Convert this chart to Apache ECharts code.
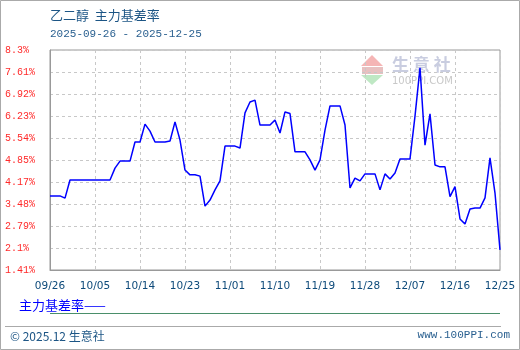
<!DOCTYPE html>
<html>
<head>
<meta charset="utf-8">
<script src="https://cdn.jsdelivr.net/npm/echarts@6/dist/echarts.min.js"></script>
<style>
html,body{margin:0;padding:0;background:#fff;}
#c{width:520px;height:350px;}
</style>
</head>
<body>
<div id="c"></div>
<script>
var titleText = '乙二醇  主力基差率';
var dateRangeText = '2025-09-26 - 2025-12-25';
var seriesName = '主力基差率';
var categories = [
'09/26','09/27','09/28','09/29','09/30',
'10/01','10/02','10/03','10/04','10/05','10/06','10/07','10/08','10/09','10/10',
'10/11','10/12','10/13','10/14','10/15','10/16','10/17','10/18','10/19','10/20',
'10/21','10/22','10/23','10/24','10/25','10/26','10/27','10/28','10/29','10/30','10/31',
'11/01','11/02','11/03','11/04','11/05','11/06','11/07','11/08','11/09','11/10',
'11/11','11/12','11/13','11/14','11/15','11/16','11/17','11/18','11/19','11/20',
'11/21','11/22','11/23','11/24','11/25','11/26','11/27','11/28','11/29','11/30',
'12/01','12/02','12/03','12/04','12/05','12/06','12/07','12/08','12/09','12/10',
'12/11','12/12','12/13','12/14','12/15','12/16','12/17','12/18','12/19','12/20',
'12/21','12/22','12/23','12/24','12/25'
];
var basisRate = [
3.73,3.73,3.73,3.66,4.23,
4.23,4.23,4.23,4.23,4.23,4.23,4.23,4.23,4.60,4.82,
4.82,4.82,5.42,5.42,5.98,5.76,5.42,5.42,5.42,5.45,
6.05,5.48,4.54,4.39,4.39,4.35,3.41,3.60,3.92,4.20,5.29,
5.29,5.29,5.23,6.33,6.67,6.73,5.95,5.95,5.95,6.11,
5.70,6.36,6.31,5.11,5.11,5.11,4.86,4.54,4.86,5.79,
6.55,6.55,6.55,5.95,3.98,4.29,4.20,4.42,4.42,4.42,
3.92,4.42,4.26,4.45,4.89,4.89,4.89,6.23,7.74,5.32,
6.30,4.70,4.64,4.64,3.71,4.02,3.01,2.85,3.32,3.35,
3.35,3.67,4.92,3.82,2.04
];
var yMin = 1.41, yMax = 8.3, yStep = 0.689;
var yTickLabels = ['1.41%','2.1%','2.79%','3.48%','4.17%','4.85%','5.54%','6.23%','6.92%','7.61%','8.3%'];
var footerLeft = '© 2025.12 生意社';
var footerRight = 'www.100PPI.com';

var chart = echarts.init(document.getElementById('c'), null, {renderer:'canvas'});
var mono = '"Liberation Mono","DejaVu Sans Mono",monospace';
var cjk = '"Noto Sans CJK SC","Noto Sans",sans-serif';
var option = {
  animation:false,
  backgroundColor:'#fff',
  grid:{left:50, top:50, width:450, height:220, show:true, borderColor:'#999', borderWidth:1, containLabel:false},
  xAxis:{
    type:'category', data:categories, boundaryGap:false,
    axisLine:{show:true, lineStyle:{color:'#999'}},
    axisTick:{show:false},
    axisLabel:{interval:8, color:'#0d4a7a', fontSize:10.5, fontFamily:'"DejaVu Sans",sans-serif', margin:11},
    splitLine:{show:true, interval:8, lineStyle:{color:'#c8c8c8', type:[3,3], width:1}}
  },
  yAxis:{
    type:'value', min:yMin, max:yMax, interval:yStep,
    axisLine:{show:true, lineStyle:{color:'#999'}},
    axisTick:{show:false},
    axisLabel:{color:'#ff2a2a', fontSize:10, fontFamily:mono, align:'left', margin:45,
      formatter:function(v, i){ return yTickLabels[i] !== undefined ? yTickLabels[i] : ''; }},
    splitLine:{show:true, lineStyle:{color:'#c8c8c8', type:[3,3], width:1}}
  },
  series:[{
    name:seriesName, type:'line', data:basisRate, showSymbol:false, symbol:'none',
    lineStyle:{color:'#0000ff', width:1.5}, z:5
  }],
  graphic:[
    {type:'rect', shape:{x:0.5,y:0.5,width:519,height:349}, style:{fill:null, stroke:'#aaa', lineWidth:1}, silent:true},
    {type:'text', left:50, top:9, style:{text:titleText, fill:'#1c5585', font:'13px '+cjk}},
    {type:'text', left:50, top:29, style:{text:dateRangeText, fill:'#2a6090', font:'11px '+mono}},
    // watermark
    {type:'polygon', shape:{points:[[372,55],[383,66],[361,66]]}, style:{fill:'#f5b5b5'}, z:-1},
    {type:'rect', shape:{x:362,y:67,width:21,height:7}, style:{fill:'#e8c0c0'}, z:-1},
    {type:'polygon', shape:{points:[[361,75],[383,75],[372,85]]}, style:{fill:'#bfe8c4'}, z:-1},
    {type:'text', x:392, y:56, style:{text:'生 意 社', fill:'#c9cde0', font:'bold 17px '+cjk}, z:-1},
    {type:'text', x:392, y:76, style:{text:'100PPI.COM', fill:'#c8c8c8', font:'10px "DejaVu Sans",sans-serif'}, z:-1},
    // legend
    {type:'text', x:19, y:299, style:{text:seriesName+'——', fill:'#0000ff', font:'13px '+cjk}},
    {type:'line', shape:{x1:50,y1:313.5,x2:500,y2:313.5}, style:{stroke:'#4a8f6a', lineWidth:1}},
    {type:'line', shape:{x1:5,y1:326.5,x2:501,y2:326.5}, style:{stroke:'#aaa', lineWidth:1}},
    {type:'text', x:10, y:330, style:{text:footerLeft, fill:'#1c5585', font:'12px '+cjk}},
    {type:'text', right:10, top:330, style:{text:footerRight, fill:'#2a6090', font:'11px '+mono}}
  ]
};
chart.setOption(option);
</script>
</body>
</html>
